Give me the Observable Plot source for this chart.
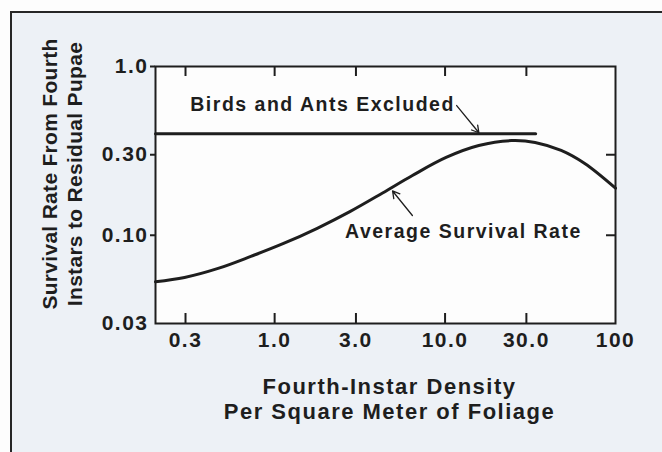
<!DOCTYPE html>
<html><head><meta charset="utf-8">
<script src="https://cdn.jsdelivr.net/npm/d3@7"></script>
<script src="https://cdn.jsdelivr.net/npm/@observablehq/plot@0.6"></script>
<style>
html,body{margin:0;padding:0;background:#fdfdfd;}
#wrap{position:relative;width:662px;height:452px;overflow:hidden;}
#panel{position:absolute;left:10px;top:11px;width:720px;height:520px;border-left:2px solid #262626;border-top:2px solid #262626;background:#edf1f6;}
#chart{position:absolute;left:0;top:0;}
#chart svg text{letter-spacing:1.5px;}
#chart svg .ytitle text{letter-spacing:0.3px;}
</style></head><body>
<div id="wrap"><div id="panel"></div><div id="chart"></div></div>
<script>
// ---- data ----
const xTicks = [0.3, 1, 3, 10, 30, 100];
const xTickLabels = ["0.3", "1.0", "3.0", "10.0", "30.0", "100"];
const yTicks = [1, 0.3, 0.1, 0.03];
const yTickLabels = ["1.0", "0.30", "0.10", "0.03"];

// Average survival rate curve
const avgDensity  = [0.2,   0.296,  0.466,  0.725,  1.128,  1.778, 2.764, 4.299, 6.432, 10.14, 15.77, 24.54, 33.75, 47.98, 66.0,  100];
const avgSurvival = [0.053, 0.0562, 0.0636, 0.0749, 0.0894, 0.110, 0.138, 0.178, 0.226, 0.289, 0.340, 0.364, 0.355, 0.318, 0.266, 0.190];

// Birds and Ants Excluded line
const exclDensity  = [0.2, 34];
const exclSurvival = [0.40, 0.40];

const yTitle = "Survival Rate From Fourth\nInstars to Residual Pupae";
const xTitle = "Fourth-Instar Density\nPer Square Meter of Foliage";
const exclLabel = "Birds and Ants Excluded";
const avgLabel = "Average Survival Rate";

// ---- build ----
const ink = "#1e1e1e";
const avg = avgDensity.map((d, i) => ({x: d, y: avgSurvival[i]}));
const excl = exclDensity.map((d, i) => ({x: d, y: exclSurvival[i]}));
const xLab = new Map(xTicks.map((d, i) => [d, xTickLabels[i]]));
const yLab = new Map(yTicks.map((d, i) => [d, yTickLabels[i]]));
const innerX = xTicks.slice(0, 5);

const W = 662, H = 452, mL = 155, mR = 47, mT = 66, mB = 129;
const fw = W - mL - mR, fh = H - mT - mB;

const chart = Plot.plot({
  width: W, height: H,
  marginLeft: mL, marginRight: mR, marginTop: mT, marginBottom: mB,
  style: {fontFamily: "'Liberation Sans', Arial, sans-serif", fontWeight: "bold", background: "transparent", color: ink, overflow: "visible"},
  x: {type: "log", domain: [0.2, 100], axis: null},
  y: {type: "log", domain: [0.03, 1], axis: null},
  marks: [
    Plot.frame({fill: "#fdfdfd"}),
    // inward ticks bottom and top
    Plot.tickX(innerX, {x: d => d, insetTop: fh - 10, stroke: ink, strokeWidth: 2}),
    Plot.tickX(innerX, {x: d => d, insetBottom: fh - 10, stroke: ink, strokeWidth: 2}),
    // left outward ticks, right inward ticks
    Plot.tickY([1, 0.3, 0.1], {y: d => d, insetLeft: -5, insetRight: fw, stroke: ink, strokeWidth: 2}),
    Plot.tickY([0.3, 0.1], {y: d => d, insetLeft: fw - 9, stroke: ink, strokeWidth: 2}),
    Plot.line(excl, {x: "x", y: "y", stroke: ink, strokeWidth: 3}),
    Plot.line(avg, {x: "x", y: "y", stroke: ink, strokeWidth: 3, curve: "catmull-rom"}),
    Plot.arrow([{x1: 11.7, y1: 0.587, x2: 15.8, y2: 0.405}], {x1: "x1", y1: "y1", x2: "x2", y2: "y2", stroke: ink, strokeWidth: 1.3, headLength: 9}),
    Plot.arrow([{x1: 6.43, y1: 0.131, x2: 4.92, y2: 0.183}], {x1: "x1", y1: "y1", x2: "x2", y2: "y2", stroke: ink, strokeWidth: 1.3, headLength: 9}),
    Plot.text([exclLabel], {x: 0.32, y: 0.59, text: d => d, textAnchor: "start", fontSize: 19.5, fill: ink}),
    Plot.text([avgLabel], {x: 2.59, y: 0.105, text: d => d, textAnchor: "start", fontSize: 19.5, fill: ink}),
    Plot.text([yTitle], {frameAnchor: "left", rotate: -90, dx: -94, dy: -21, text: d => d, textAnchor: "middle", lineAnchor: "middle", fontSize: 21, lineHeight: 1.18, fill: ink, className: "ytitle"}),
    Plot.text([xTitle], {frameAnchor: "bottom", dx: 4, dy: 75, text: d => d, textAnchor: "middle", lineAnchor: "middle", fontSize: 22, lineHeight: 1.14, fill: ink}),
    // tick labels
    Plot.text(xTicks, {x: d => d, frameAnchor: "bottom", dy: 9, lineAnchor: "top", textAnchor: "middle", text: d => xLab.get(d), fontSize: 21, fill: ink}),
    Plot.text(yTicks, {y: d => d, frameAnchor: "left", dx: -7, textAnchor: "end", lineAnchor: "middle", text: d => yLab.get(d), fontSize: 21, fill: ink}),
    Plot.frame({stroke: ink, strokeWidth: 2})
  ]
});
document.getElementById("chart").appendChild(chart);
</script>
</body></html>
